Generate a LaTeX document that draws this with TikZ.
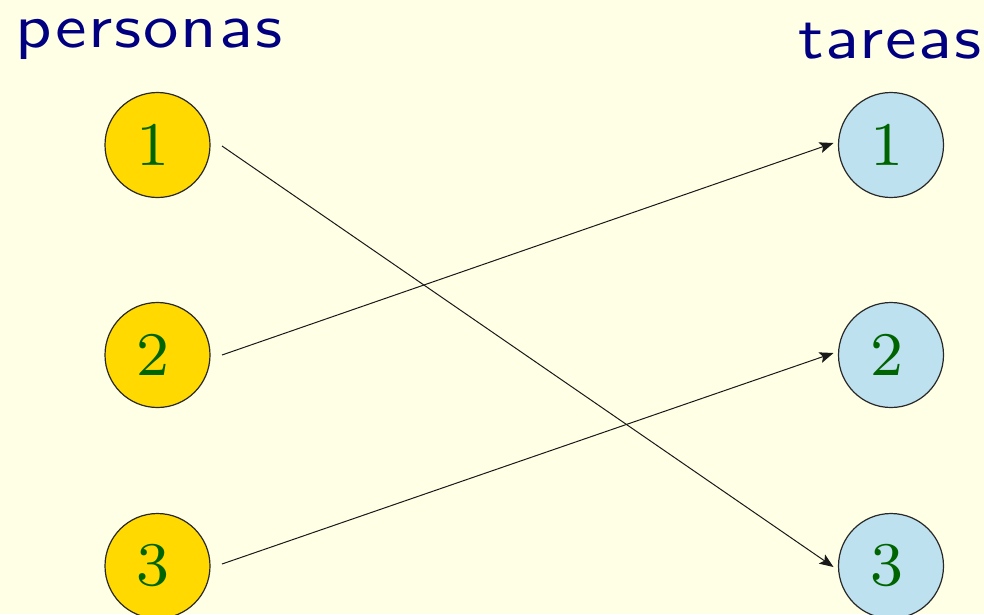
\documentclass[tikz,border=0pt]{standalone}
\usepackage{fontspec}
\usetikzlibrary{arrows.meta}
\newfontfamily\headfont[FakeStretch=1.14,LetterSpace=3]{lmsans10-regular.otf}
\newfontfamily\numfont{lmroman8-regular.otf}
\definecolor{bgpaper}{RGB}{255,255,229}
\definecolor{headblue}{RGB}{0,0,128}
\definecolor{numgreen}{RGB}{0,100,0}
\definecolor{persfill}{RGB}{255,217,0}
\definecolor{taskfill}{RGB}{190,225,240}
\definecolor{rimgray}{RGB}{40,40,40}
\begin{document}
\begin{tikzpicture}[x=1pt,y=-1pt,
  head/.style={text=headblue,font=\headfont\fontsize{62}{62}\selectfont,inner sep=0pt,text height=30pt},
  ball/.style={circle,draw=rimgray,line width=1.2pt,minimum size=105pt,inner sep=0pt,outer sep=0pt,
    text=numgreen,font=\numfont\fontsize{62}{62}\selectfont,execute at begin node={\hspace*{-9pt}}},
  person/.style={ball,fill=persfill},
  task/.style={ball,fill=taskfill},
  link/.style={draw=black!90,line width=1pt,
    -{Stealth[length=14pt,width=11pt,inset=3pt]}}]
  \fill[bgpaper] (0,0) rectangle (984,614);
  \useasboundingbox (0,0) rectangle (984,614);
  % column headings
  \node[head,anchor=base west] (hp) at (15,47) {personas};
  \node[head,anchor=base east] (ht) at (982,58) {tareas};
  % people
  \node[person] (p1) at (157.5,145) {1};
  \node[person] (p2) at (157.5,355) {2};
  \node[person] (p3) at (157.5,566) {3};
  % tasks
  \node[task] (t1) at (891,145) {1};
  \node[task] (t2) at (891,355) {2};
  \node[task] (t3) at (891,566) {3};
  % assignment
  \draw[link] ([xshift=12pt,yshift=-1pt]p1.east) -- ([xshift=-5pt,yshift=-1pt]t3.west);
  \draw[link] ([xshift=12pt]p2.east) -- ([xshift=-5pt,yshift=2pt]t1.west);
  \draw[link] ([xshift=12pt,yshift=2pt]p3.east) -- ([xshift=-5pt,yshift=2pt]t2.west);
\end{tikzpicture}
\end{document}
